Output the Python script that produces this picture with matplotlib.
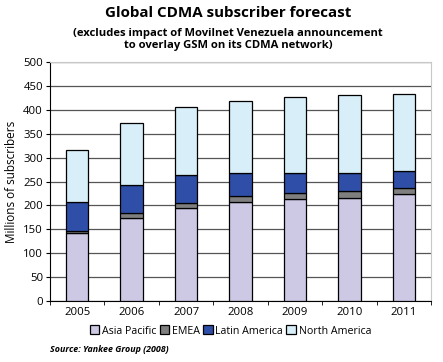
import matplotlib.pyplot as plt
import numpy as np

years = ['2005', '2006', '2007', '2008', '2009', '2010', '2011']
asia_pacific = [142, 174, 195, 208, 214, 216, 224]
emea = [5, 10, 10, 12, 11, 14, 12]
latin_america = [61, 59, 58, 48, 43, 37, 35]
north_america = [107, 130, 143, 150, 158, 163, 163]

series = [
    ('Asia Pacific', asia_pacific, '#cdc9e5'),
    ('EMEA', emea, '#7f7f7f'),
    ('Latin America', latin_america, '#2f4ea8'),
    ('North America', north_america, '#d8eef9'),
]

plt.rcParams['font.family'] = ['Open Sans', 'DejaVu Sans']

fig = plt.figure(figsize=(4.43, 3.62), dpi=100)
ax = fig.add_axes([50 / 443, 1 - 301 / 362, 381 / 443, 239 / 362])

x = np.arange(len(years))
bottom = np.zeros(len(years))
for name, vals, color in series:
    ax.bar(x, vals, width=0.41, bottom=bottom, color=color, edgecolor='black',
           linewidth=0.9, label=name, zorder=3)
    bottom += np.array(vals)

ax.set_xlim(-0.5, len(years) - 0.5)
ax.set_ylim(0, 500)
ax.set_yticks(range(0, 501, 50))
ax.yaxis.grid(True, color='#555555', linewidth=0.9, zorder=0)
ax.set_xticks(x)
ax.set_xticklabels(years, fontsize=8.2)
ax.set_xticks(np.arange(-0.5, len(years)), minor=True)
ax.tick_params(axis='x', which='major', length=0, pad=4)
ax.tick_params(axis='x', which='minor', length=3, direction='out')
ax.tick_params(axis='y', labelsize=8.2, length=3, pad=2)
for s in ['top', 'right']:
    ax.spines[s].set_color('#c8c8c8')
for s in ['left', 'bottom']:
    ax.spines[s].set_color('black')
ax.set_ylabel('Millions of subscribers', fontsize=8.5, labelpad=4)

fig.text(0.515, 0.965, 'Global CDMA subscriber forecast', ha='center', va='center',
         fontsize=10.9, fontweight='bold')
fig.text(0.515, 0.89, '(excludes impact of Movilnet Venezuela announcement\nto overlay GSM on its CDMA network)',
         ha='center', va='center', fontsize=8.1, fontweight='bold', linespacing=1.15)

fig.legend(loc='center', bbox_to_anchor=(0.52, 1 - 331 / 362), ncol=4, frameon=False,
           fontsize=7.7, handlelength=0.9, handleheight=0.9,
           handletextpad=0.25, columnspacing=0.3)
fig.text(50 / 443, 1 - 350 / 362, 'Source: Yankee Group (2008)', ha='left', va='center',
         fontsize=6.4, style='italic', fontweight='bold')

fig.savefig('out.png', dpi=100)
